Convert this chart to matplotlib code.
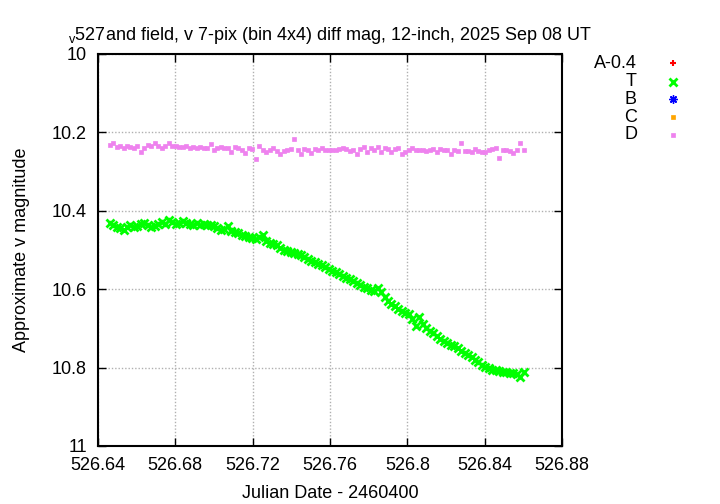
import matplotlib
matplotlib.use('Agg')
import matplotlib.pyplot as plt
from matplotlib.lines import Line2D

plt.rcParams['font.family'] = ['Liberation Sans', 'DejaVu Sans']
plt.rcParams['font.size'] = 13

# Julian Date - 2460400
jd = [
    526.6460, 526.6478, 526.6496, 526.6514, 526.6532, 526.6550, 526.6568, 526.6586, 526.6604, 526.6622,
    526.6640, 526.6658, 526.6676, 526.6694, 526.6712, 526.6730, 526.6748, 526.6766, 526.6784, 526.6802,
    526.6820, 526.6838, 526.6856, 526.6874, 526.6892, 526.6910, 526.6928, 526.6946, 526.6964, 526.6982,
    526.7000, 526.7018, 526.7036, 526.7054, 526.7072, 526.7090, 526.7108, 526.7126, 526.7144, 526.7162,
    526.7180, 526.7198, 526.7216, 526.7234, 526.7252, 526.7270, 526.7288, 526.7306, 526.7324, 526.7342,
    526.7360, 526.7378, 526.7396, 526.7414, 526.7432, 526.7450, 526.7468, 526.7486, 526.7504, 526.7522,
    526.7540, 526.7558, 526.7576, 526.7594, 526.7612, 526.7630, 526.7648, 526.7666, 526.7684, 526.7702,
    526.7720, 526.7738, 526.7756, 526.7774, 526.7792, 526.7810, 526.7828, 526.7846, 526.7864, 526.7882,
    526.7900, 526.7918, 526.7936, 526.7954, 526.7972, 526.7990, 526.8008, 526.8026, 526.8044, 526.8062,
    526.8080, 526.8098, 526.8116, 526.8134, 526.8152, 526.8170, 526.8188, 526.8206, 526.8224, 526.8242,
    526.8260, 526.8278, 526.8296, 526.8314, 526.8332, 526.8350, 526.8368, 526.8386, 526.8404, 526.8422,
    526.8440, 526.8458, 526.8476, 526.8494, 526.8512, 526.8530, 526.8548, 526.8566, 526.8584, 526.8602,
]

# target
t_mag = [
    10.430, 10.437, 10.442, 10.444, 10.448, 10.441, 10.436, 10.442, 10.439, 10.434,
    10.430, 10.437, 10.441, 10.438, 10.433, 10.429, 10.434, 10.424, 10.428, 10.433,
    10.431, 10.427, 10.431, 10.434, 10.436, 10.432, 10.435, 10.433, 10.437, 10.435,
    10.440, 10.443, 10.449, 10.446, 10.439, 10.452, 10.455, 10.457, 10.461, 10.465,
    10.467, 10.470, 10.472, 10.466, 10.461, 10.477, 10.481, 10.484, 10.487, 10.494,
    10.500, 10.502, 10.505, 10.507, 10.510, 10.514, 10.519, 10.523, 10.527, 10.531,
    10.535, 10.538, 10.543, 10.549, 10.553, 10.557, 10.562, 10.567, 10.572, 10.575,
    10.580, 10.585, 10.590, 10.594, 10.598, 10.603, 10.604, 10.598, 10.608, 10.619,
    10.630, 10.638, 10.643, 10.650, 10.655, 10.660, 10.664, 10.676, 10.695, 10.670,
    10.690, 10.700, 10.706, 10.713, 10.719, 10.726, 10.732, 10.737, 10.742, 10.746,
    10.750, 10.757, 10.763, 10.768, 10.774, 10.780, 10.786, 10.794, 10.798, 10.801,
    10.805, 10.807, 10.809, 10.811, 10.812, 10.814, 10.813, 10.817, 10.823, 10.811,
]

# comparison D
d_mag = [
    10.232, 10.228, 10.237, 10.234, 10.239, 10.234, 10.236, 10.239, 10.235, 10.249,
    10.240, 10.232, 10.234, 10.228, 10.234, 10.240, 10.235, 10.226, 10.234, 10.234,
    10.236, 10.237, 10.234, 10.240, 10.237, 10.239, 10.236, 10.241, 10.239, 10.229,
    10.244, 10.239, 10.237, 10.239, 10.240, 10.251, 10.238, 10.239, 10.244, 10.253,
    10.239, 10.242, 10.268, 10.235, 10.244, 10.249, 10.246, 10.241, 10.248, 10.254,
    10.248, 10.244, 10.243, 10.217, 10.246, 10.254, 10.243, 10.246, 10.253, 10.243,
    10.244, 10.241, 10.246, 10.244, 10.245, 10.245, 10.243, 10.239, 10.242, 10.248,
    10.245, 10.256, 10.242, 10.238, 10.249, 10.239, 10.245, 10.238, 10.251, 10.241,
    10.243, 10.249, 10.243, 10.240, 10.256, 10.249, 10.245, 10.241, 10.245, 10.244,
    10.245, 10.248, 10.244, 10.242, 10.249, 10.242, 10.244, 10.246, 10.254, 10.245,
    10.248, 10.228, 10.248, 10.248, 10.251, 10.242, 10.248, 10.249, 10.249, 10.244,
    10.242, 10.240, 10.266, 10.245, 10.245, 10.248, 10.253, 10.245, 10.228, 10.245,
]

# A-0.4, B, C fall outside the plotted range
a_mag = []
b_mag = []
c_mag = []

x_ticks = [526.64, 526.68, 526.72, 526.76, 526.80, 526.84, 526.88]
y_ticks = [10.0, 10.2, 10.4, 10.6, 10.8, 11.0]

series = [
    ('A-0.4', a_mag, '+', '#ff0000', 5, 1.5),
    ('T', t_mag, 'x', '#00ff00', 5.5, 2.0),
    ('B', b_mag, (8, 2, 0), '#0000ff', 6, 1.0),
    ('C', c_mag, 's', '#ffa500', 2.2, 0.5),
    ('D', d_mag, 's', '#ee82ee', 3.2, 0.5),
]

fig = plt.figure(figsize=(7.2, 5.04), dpi=100)
ax = fig.add_axes([98 / 720, 1 - 446 / 504, 464 / 720, 392 / 504])

for name, mags, mk, col, ms, mew in series:
    ax.plot(jd[:len(mags)], mags, linestyle='none', marker=mk, color=col,
            markersize=ms, markeredgewidth=mew)

ax.set_xlim(526.64, 526.88)
ax.set_ylim(11, 10)
ax.set_xticks(x_ticks)
ax.set_yticks(y_ticks)
ax.set_xticklabels(['%g' % v for v in x_ticks])
ax.set_yticklabels(['%g' % v for v in y_ticks])
ax.tick_params(direction='in', length=5.5, width=1, top=True, right=True)
ax.tick_params(axis='y', pad=8)
ax.tick_params(axis='x', pad=8)
for sp in ax.spines.values():
    sp.set_linewidth(1.5)
ax.grid(True, color='#b0b0b0', linestyle=(0, (1, 1.4)), linewidth=1)

ax.set_xlabel('Julian Date - 2460400', labelpad=8)
ax.set_ylabel('Approximate v magnitude', labelpad=16)
ax.set_title(r'$_{\mathregular{v}}$527and field, v 7-pix (bin 4x4) diff mag, 12-inch, 2025 Sep 08 UT',
             fontsize=13, pad=10)

# gnuplot-style key outside the plot
row_y = [63, 81.5, 99.3, 117, 135]
for (name, mags, mk, col, ms, mew), yy in zip(series, row_y):
    fy = 1 - yy / 504
    fig.text(637 / 720, fy, name, ha='right', va='center', fontsize=13)
    fig.add_artist(Line2D([673 / 720], [fy], transform=fig.transFigure, linestyle='none',
                          marker=mk, color=col, markersize=ms, markeredgewidth=mew))

fig.savefig('out.png', dpi=100)
